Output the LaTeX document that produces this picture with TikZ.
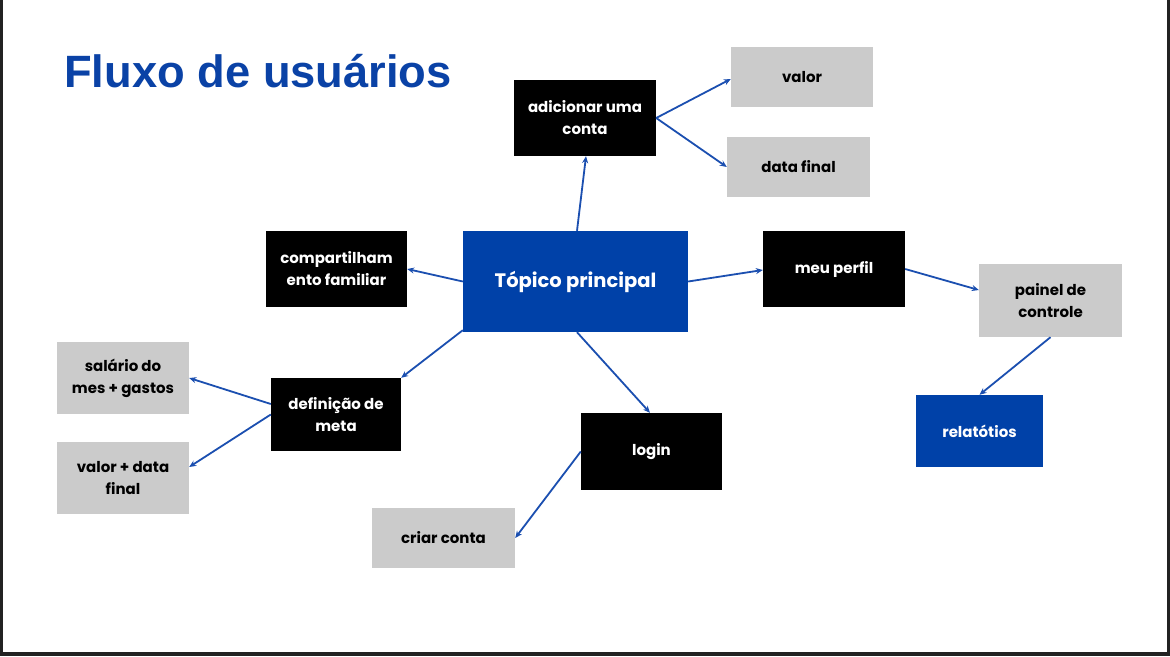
\documentclass[tikz,border=0pt]{standalone}
\usepackage{fontspec}
\setmainfont{Poppins}
\newfontfamily\titlefont{Liberation Sans}
\usetikzlibrary{arrows.meta,calc}
\definecolor{cblue}{HTML}{0041A8}
\definecolor{tblue}{HTML}{0A42A6}
\definecolor{lblue}{HTML}{1B4FB0}
\definecolor{cgray}{HTML}{CBCBCB}
\definecolor{frame}{HTML}{222222}
\tikzset{
  box/.style={inner sep=0pt, align=center, font=\fontsize{15}{22}\selectfont\bfseries},
  blackbox/.style={box, fill=black, text=white},
  graybox/.style={box, fill=cgray, text=black},
  bluebox/.style={box, fill=cblue, text=white},
  conn/.style={draw=lblue, line width=1.8pt, -{Stealth[length=7pt,width=6pt]}},
}
\begin{document}
\begin{tikzpicture}[x=1pt,y=-1pt]
\useasboundingbox (0,0) rectangle (1170,656);
\fill[white] (0,0) rectangle (1170,656);
\fill[frame] (0,0) rectangle (3,656);
\fill[frame] (1167,0) rectangle (1170,656);
\fill[frame] (0,652) rectangle (1170,656);

\node[anchor=base west, inner sep=0pt, text=tblue, font=\titlefont\fontsize{45.3}{50}\selectfont\bfseries] (title) at (64,87) {Fluxo de usuários};

\node[bluebox, minimum width=225pt, minimum height=101pt, font=\fontsize{19.5}{24}\selectfont\bfseries] (top) at (575.5,281.5) {Tópico principal};
\node[blackbox, minimum width=142pt, minimum height=76pt] (adic) at (585,118) {adicionar uma\\conta};
\node[graybox, minimum width=142pt, minimum height=60pt] (valor) at (802,77) {valor};
\node[graybox, minimum width=143pt, minimum height=60pt] (data) at (798.5,167) {data final};
\node[blackbox, minimum width=141pt, minimum height=76pt] (comp) at (336.5,269) {compartilham\\ento familiar};
\node[blackbox, minimum width=142pt, minimum height=76pt] (perfil) at (834,269) {meu perfil};
\node[graybox, minimum width=143pt, minimum height=73pt] (painel) at (1050.5,300.5) {painel de\\controle};
\node[bluebox, minimum width=127pt, minimum height=72pt] (relat) at (979.5,431) {relatótios};
\node[blackbox, minimum width=130pt, minimum height=73pt] (def) at (336,414.5) {definição de\\meta};
\node[graybox, minimum width=132pt, minimum height=72pt] (sal) at (123,378) {salário do\\mes + gastos};
\node[graybox, minimum width=132pt, minimum height=72pt] (vdf) at (123,478) {valor + data\\final};
\node[blackbox, minimum width=141pt, minimum height=77pt] (login) at (651.5,451.5) {login};
\node[graybox, minimum width=143pt, minimum height=60pt] (criar) at (443.5,538) {criar conta};

\draw[conn] ([xshift=1.5pt]top.north) -- ([xshift=1pt]adic.south);
\draw[conn] (adic.east) -- ([yshift=-2pt]valor.west);
\draw[conn] (adic.east) -- (data.west);
\draw[conn] (top.west) -- (comp.east);
\draw[conn] ([yshift=2pt]top.south west) -- (def.north east);
\draw[conn] ([xshift=1.5pt]top.south) -- ([xshift=-1.5pt]login.north);
\draw[conn] (top.east) -- ([yshift=-1pt]perfil.west);
\draw[conn] (perfil.east) -- ([yshift=10.5pt]painel.west);
\draw[conn] (painel.south) -- (relat.north);
\draw[conn] ([yshift=10.5pt]def.west) -- (sal.east);
\draw[conn] (def.west) -- ([yshift=11pt]vdf.east);
\draw[conn] (login.west) -- (criar.east);
\end{tikzpicture}
\end{document}
